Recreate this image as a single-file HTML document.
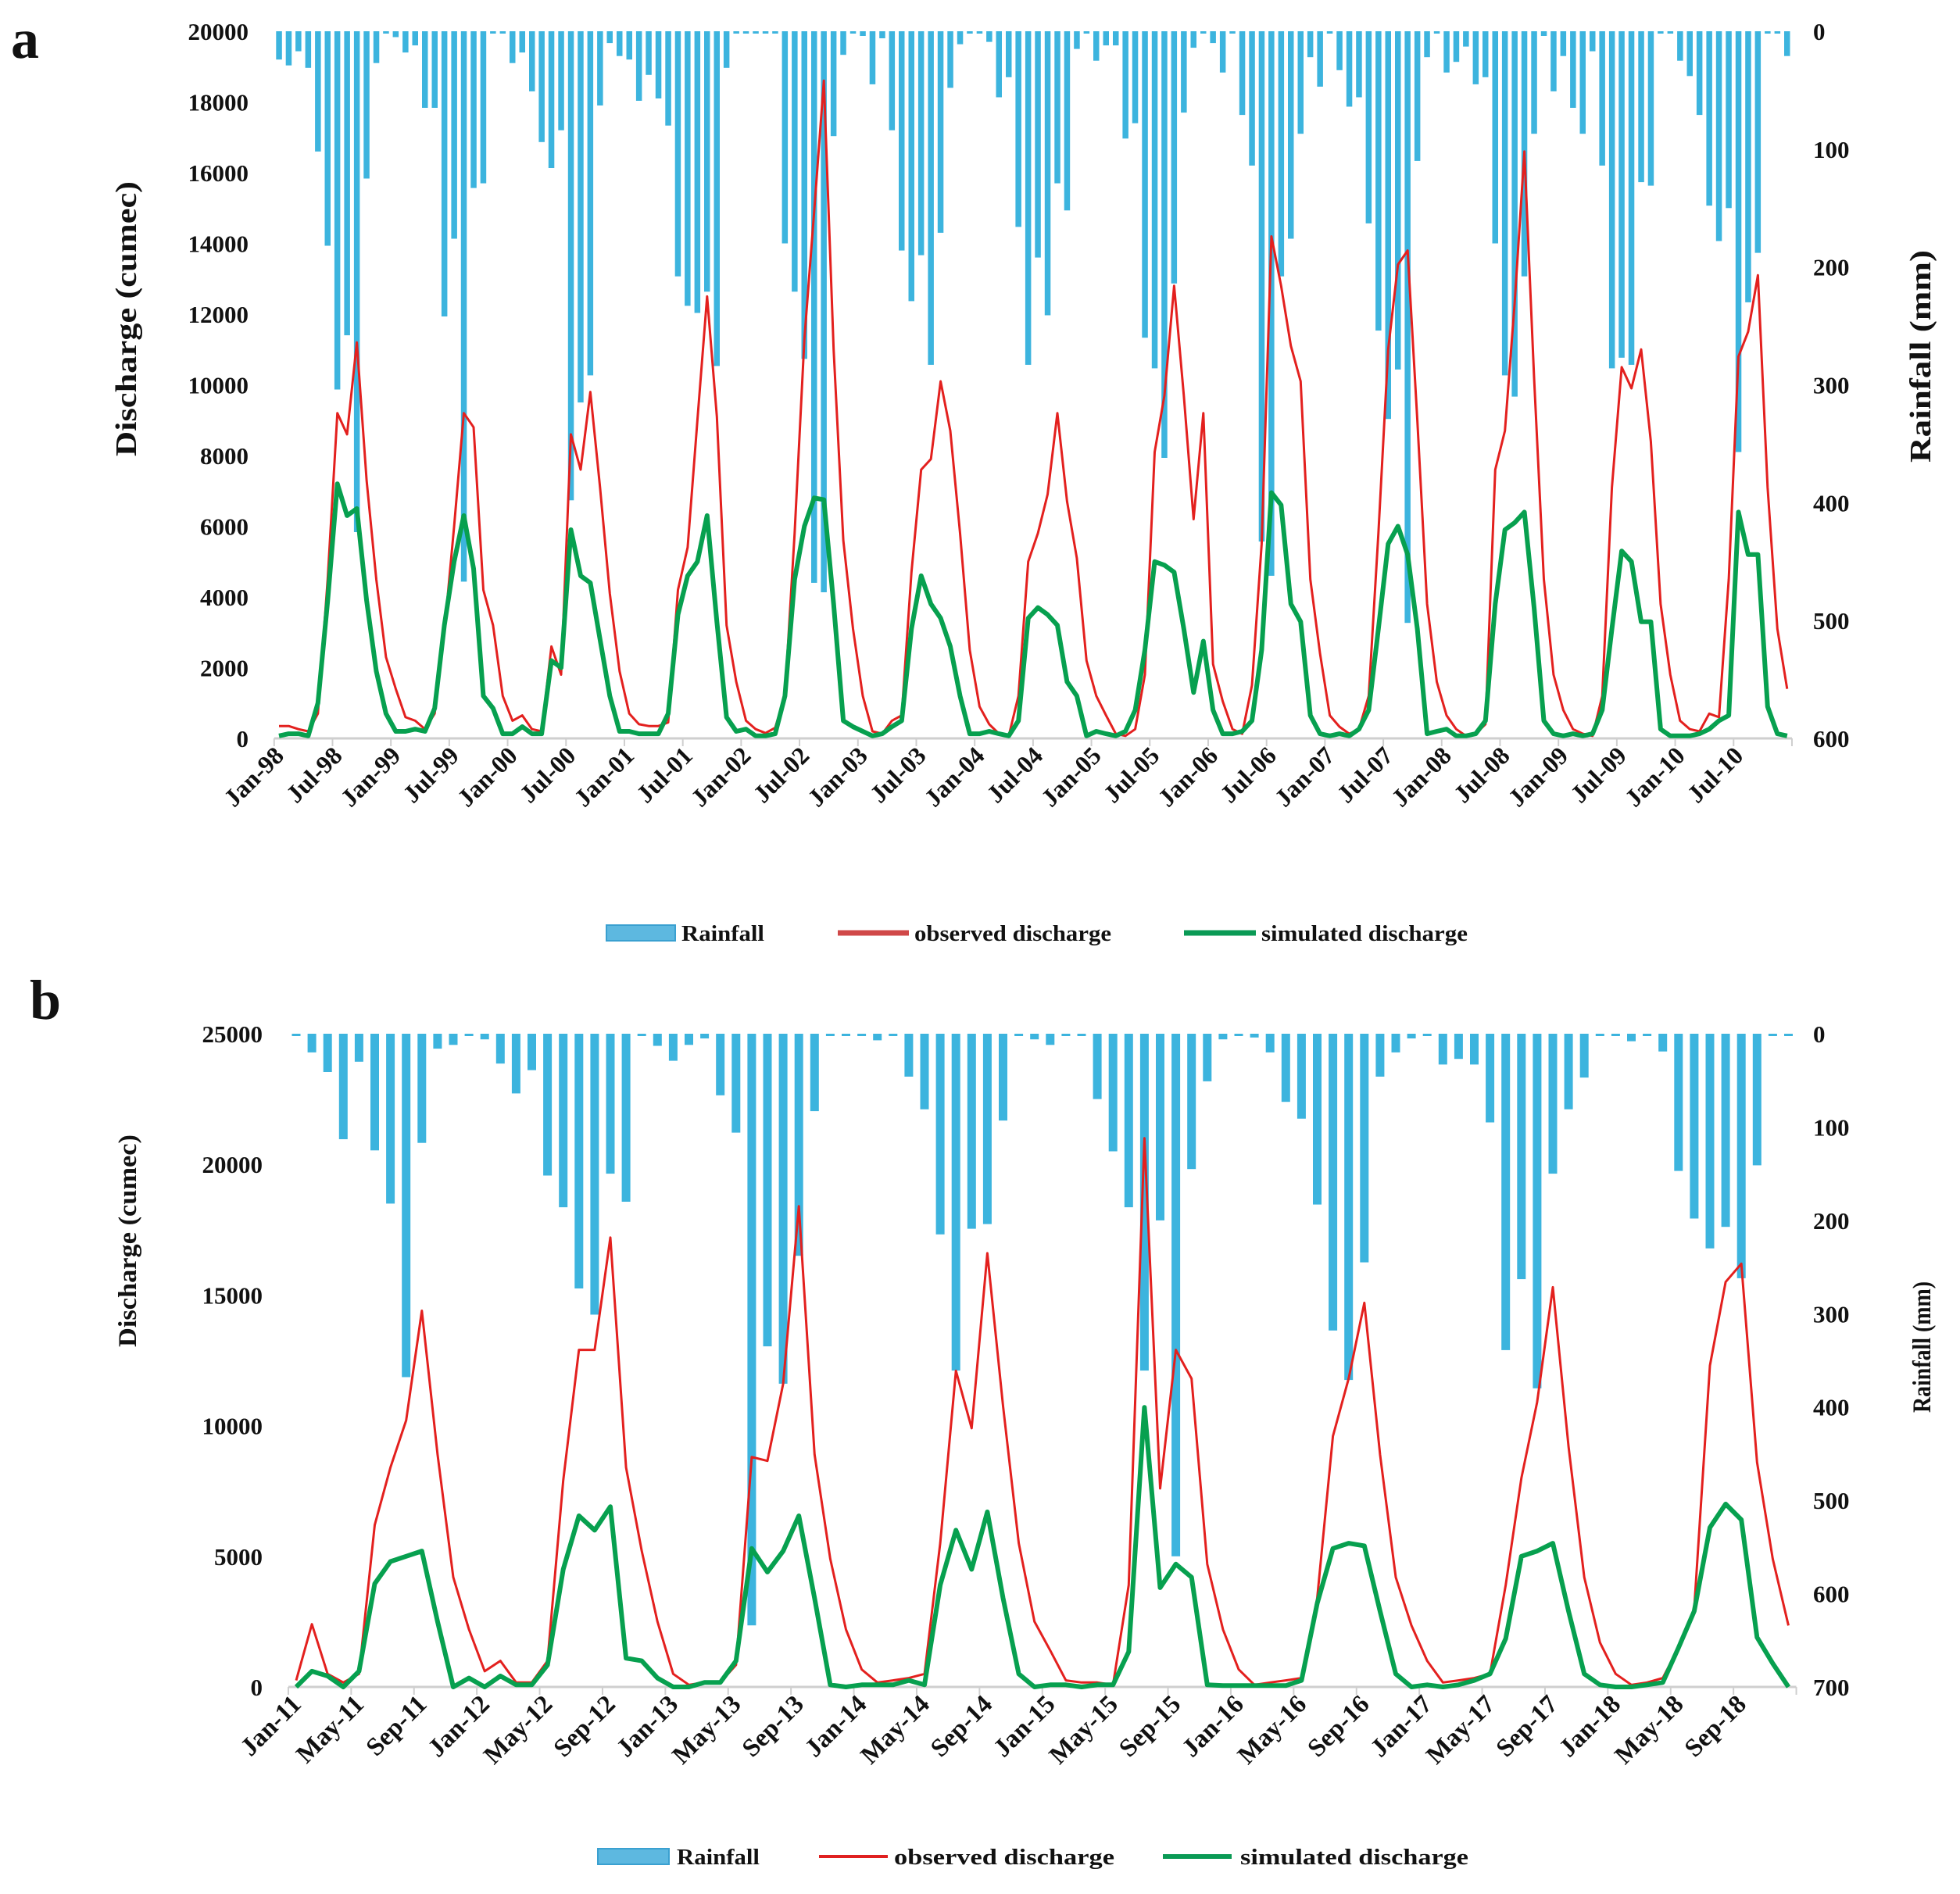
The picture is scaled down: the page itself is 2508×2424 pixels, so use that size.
<!DOCTYPE html>
<html><head><meta charset="utf-8"><style>
html,body{margin:0;padding:0;background:#fff}
svg{display:block}
text{font-family:"Liberation Serif",serif;font-weight:bold;fill:#111}
</style></head><body>
<svg id="fig" width="2508" height="2424" viewBox="0 0 2508 2424" xmlns="http://www.w3.org/2000/svg">
<text x="14" y="74" font-size="72">a</text>
<text x="38" y="1304" font-size="72">b</text>
<g id="chartA"></g>
<g id="chartB"></g>
<g>
<rect x="776" y="1184" width="88" height="20" fill="#5db8e0" stroke="#3aa0d0" stroke-width="2"/>
<text x="872" y="1204" font-size="28" textLength="106" lengthAdjust="spacingAndGlyphs">Rainfall</text>
<line x1="1072" y1="1194" x2="1163" y2="1194" stroke="#d04848" stroke-width="7"/>
<text x="1170" y="1204" font-size="28" textLength="252" lengthAdjust="spacingAndGlyphs">observed discharge</text>
<line x1="1515" y1="1194" x2="1607" y2="1194" stroke="#0a9a55" stroke-width="7"/>
<text x="1614" y="1204" font-size="28" textLength="264" lengthAdjust="spacingAndGlyphs">simulated discharge</text>
</g>
<g>
<rect x="765" y="2366" width="91" height="20" fill="#5db8e0" stroke="#3aa0d0" stroke-width="2"/>
<text x="866" y="2386" font-size="28" textLength="106" lengthAdjust="spacingAndGlyphs">Rainfall</text>
<line x1="1048" y1="2376" x2="1136" y2="2376" stroke="#e02020" stroke-width="4"/>
<text x="1144" y="2386" font-size="28" textLength="282" lengthAdjust="spacingAndGlyphs">observed discharge</text>
<line x1="1488" y1="2376" x2="1576" y2="2376" stroke="#0a9a55" stroke-width="6"/>
<text x="1587" y="2386" font-size="28" textLength="292" lengthAdjust="spacingAndGlyphs">simulated discharge</text>
</g>
</svg>
<script>
// ---- Chart A data (Jan-98 .. Dec-10), discharge in thousand cumec, rainfall mm
const rainA = [24,29,17,31,102,182,304,258,425,125,27,2,
5,18,12,65,65,242,176,467,133,129,1,1,
27,18,51,94,116,84,398,315,292,63,10,21,
24,59,37,57,80,208,233,239,221,284,31,1,
1,1,1,1,180,221,278,468,476,89,20,1,
4,45,6,84,186,229,190,283,171,48,11,1,
1,9,56,39,166,283,192,241,129,152,15,1,
25,12,12,91,78,260,286,362,214,69,14,1,
10,35,1,71,114,433,462,208,176,87,22,47,
1,33,64,56,163,254,329,287,502,110,22,2,
35,26,13,45,39,180,292,310,208,87,4,51,
21,65,87,17,114,286,277,283,128,131,1,1,
25,38,71,148,178,150,357,230,188,1,1,21];
const obsA = [0.35,0.35,0.26,0.2,0.7,4.5,9.2,8.6,11.2,7.3,4.5,2.3,
1.4,0.6,0.5,0.26,0.7,3.0,6.0,9.2,8.8,4.2,3.2,1.2,
0.5,0.65,0.26,0.2,2.6,1.8,8.6,7.6,9.8,7.1,4.1,1.9,
0.7,0.4,0.35,0.35,0.45,4.2,5.4,9.0,12.5,9.1,3.2,1.6,
0.5,0.26,0.15,0.3,1.2,5.8,11.3,14.9,18.6,11.0,5.6,3.1,
1.2,0.2,0.13,0.5,0.65,4.7,7.6,7.9,10.1,8.7,5.8,2.5,
0.9,0.4,0.13,0.07,1.2,5.0,5.8,6.9,9.2,6.7,5.1,2.2,
1.2,0.65,0.13,0.07,0.26,1.8,8.1,9.7,12.8,9.7,6.2,9.2,
2.1,1.05,0.26,0.13,1.5,5.5,14.2,12.8,11.1,10.1,4.5,2.4,
0.65,0.33,0.13,0.26,1.2,5.8,11.0,13.4,13.8,9.0,3.8,1.6,
0.65,0.26,0.07,0.13,0.4,7.6,8.7,12.3,16.6,10.2,4.5,1.8,
0.8,0.26,0.13,0.07,1.2,7.1,10.5,9.9,11.0,8.4,3.8,1.8,
0.5,0.26,0.2,0.7,0.6,4.5,10.8,11.5,13.1,7.1,3.1,1.4];
const simA = [0.07,0.13,0.13,0.07,1.0,3.9,7.2,6.3,6.5,3.9,1.9,0.7,
0.2,0.2,0.26,0.2,0.85,3.2,5.0,6.3,4.8,1.2,0.85,0.13,
0.13,0.33,0.13,0.13,2.2,2.0,5.9,4.6,4.4,2.8,1.2,0.2,
0.2,0.13,0.13,0.13,0.7,3.5,4.6,5.0,6.3,3.3,0.6,0.2,
0.26,0.07,0.07,0.13,1.2,4.5,6.0,6.8,6.75,3.8,0.5,0.33,
0.2,0.07,0.13,0.33,0.5,3.1,4.6,3.8,3.4,2.6,1.2,0.13,
0.13,0.2,0.13,0.07,0.5,3.4,3.7,3.5,3.2,1.6,1.2,0.07,
0.2,0.13,0.07,0.2,0.8,2.5,5.0,4.9,4.7,3.1,1.3,2.75,
0.8,0.13,0.13,0.2,0.5,2.5,6.95,6.6,3.8,3.3,0.65,0.13,
0.07,0.13,0.07,0.26,0.8,3.1,5.5,6.0,5.2,3.1,0.13,0.2,
0.26,0.07,0.07,0.13,0.5,3.8,5.9,6.1,6.4,3.7,0.5,0.13,
0.07,0.13,0.07,0.13,0.8,3.1,5.3,5.0,3.3,3.3,0.26,0.07,
0.07,0.07,0.13,0.26,0.5,0.65,6.4,5.2,5.2,0.9,0.13,0.07];
const yTicksA = [0,2000,4000,6000,8000,10000,12000,14000,16000,18000,20000];
const rTicksA = [0,100,200,300,400,500,600];
// ---- Chart B data (Jan-11 .. Dec-18)
const rainB = [1,20,41,113,30,125,182,368,117,16,12,1,
6,32,64,39,152,186,273,301,150,180,1,13,
29,12,5,66,106,634,335,375,238,83,1,0,
2,7,2,46,81,215,361,209,204,93,1,6,
12,1,1,70,126,186,361,200,560,145,51,6,
1,4,20,73,91,183,318,371,245,46,20,5,
1,33,27,33,95,339,263,380,150,81,47,1,
1,8,2,19,147,198,230,207,262,141,1,1];
const obsB = [0.25,2.4,0.5,0.17,0.5,6.2,8.4,10.2,14.4,8.9,4.2,2.2,
0.6,1.0,0.17,0.17,1.0,7.9,12.9,12.9,17.2,8.4,5.2,2.5,
0.5,0.08,0.17,0.17,0.84,8.8,8.65,11.6,18.4,8.9,4.9,2.2,
0.67,0.17,0.25,0.34,0.5,5.5,12.1,9.9,16.6,10.75,5.5,2.5,
1.4,0.25,0.17,0.17,0.08,3.9,21.0,7.6,12.9,11.8,4.7,2.2,
0.67,0.08,0.17,0.25,0.34,3.4,9.6,11.8,14.7,8.9,4.2,2.35,
1.0,0.17,0.25,0.34,0.5,3.9,8.0,10.9,15.3,9.2,4.2,1.7,
0.5,0.08,0.17,0.34,1.5,3.0,12.3,15.5,16.2,8.6,4.9,2.35];
const simB = [0,0.6,0.42,0,0.6,3.95,4.8,5.0,5.2,2.5,0,0.34,
0,0.42,0.08,0.08,0.84,4.5,6.55,6.0,6.9,1.1,1.0,0.34,
0,0,0.17,0.17,1.0,5.3,4.4,5.2,6.55,3.4,0.08,0,
0.08,0.08,0.08,0.25,0.08,3.9,6.0,4.5,6.7,3.4,0.5,0,
0.08,0.08,0,0.08,0.08,1.35,10.7,3.8,4.7,4.2,0.08,0.05,
0.05,0.05,0.05,0.05,0.25,3.2,5.3,5.5,5.4,2.9,0.5,0,
0.08,0,0.08,0.25,0.5,1.85,5.0,5.2,5.5,2.9,0.5,0.08,
0,0,0.08,0.17,1.5,2.9,6.1,7.0,6.4,1.9,0.9,0];
const yTicksB = [0,5000,10000,15000,20000,25000];
const rTicksB = [0,100,200,300,400,500,600,700];
const monA = ["Jan","Jul"];
const monB = ["Jan","May","Sep"];

const NS="http://www.w3.org/2000/svg";
function mk(parent,tag,attrs){const e=document.createElementNS(NS,tag);for(const k in attrs)e.setAttribute(k,attrs[k]);parent.appendChild(e);return e;}

function drawChart(g,cfg){
  const n=cfg.rain.length;
  const xc=i=>cfg.x0+i*cfg.step;
  const yQ=v=>cfg.yBot-(v*1000/cfg.qMax)*(cfg.yBot-cfg.yTop);
  const yR=v=>cfg.yTop+(v/cfg.rMax)*(cfg.yBot-cfg.yTop);
  for(let i=0;i<n;i++){
    const h=Math.max(yR(cfg.rain[i])-cfg.yTop,3);
    const r=mk(g,'rect',{x:(xc(i)-cfg.bw/2).toFixed(1),y:cfg.yTop,width:cfg.bw,height:h.toFixed(1),fill:'#3cb4de'});
    
    
  }
  const ax=mk(g,'line',{x1:cfg.x0-cfg.step/2,x2:xc(n-1)+cfg.step/2,y1:cfg.yBot,y2:cfg.yBot,stroke:'#cfcfcf','stroke-width':3});
  
  
  for(let i=0;i<=n;i+=cfg.every){
    const tk=mk(g,'line',{x1:xc(i)-cfg.step/2,x2:xc(i)-cfg.step/2,y1:cfg.yBot,y2:cfg.yBot+10,stroke:'#cfcfcf','stroke-width':2});
    
    
  }
  for(let i=0;i<n;i+=cfg.every){
    const yr=(cfg.startYear+Math.floor(i/12))%100;
    const lab=cfg.mons[(i%12)/cfg.every]+'-'+String(yr).padStart(2,'0');
    const x=xc(i)+8,y=cfg.yBot+24;
    const t=mk(g,'text',{x:x,y:y,'font-size':cfg.xFont,'text-anchor':'end',transform:`rotate(-45 ${x} ${y})`});
    t.textContent=lab;
    
    
  }
  cfg.yTicks.forEach(v=>{
    const t=mk(g,'text',{x:cfg.yLabX,y:yQ(v/1000)+11,'font-size':31,'text-anchor':'end'});
    t.textContent=v;
    
    
  });
  cfg.rTicks.forEach(v=>{
    const t=mk(g,'text',{x:2320,y:yR(v)+11,'font-size':31});
    t.textContent=v;
    
    
  });
  const pts=a=>a.map((v,i)=>xc(i).toFixed(1)+','+yQ(v).toFixed(1)).join(' ');
  const ro=mk(g,'polyline',{points:pts(cfg.obs),fill:'none',stroke:'#e3201e','stroke-width':3,'stroke-linejoin':'round'});
  
  
  const gs=mk(g,'polyline',{points:pts(cfg.sim),fill:'none',stroke:'#07a04f','stroke-width':6,'stroke-linejoin':'round'});
  
  
  const t1=mk(g,'text',{x:cfg.titleX,y:cfg.titleLY,'font-size':cfg.titleFont,'text-anchor':'middle',transform:`rotate(-90 ${cfg.titleX} ${cfg.titleLY})`,textLength:cfg.titleLLen,lengthAdjust:'spacingAndGlyphs'});
  t1.textContent='Discharge (cumec)';
  
  
  const t2=mk(g,'text',{x:2470,y:cfg.titleRY,'font-size':cfg.titleFont,'text-anchor':'middle',transform:`rotate(-90 2470 ${cfg.titleRY})`,textLength:cfg.titleRLen,lengthAdjust:'spacingAndGlyphs'});
  t2.textContent='Rainfall (mm)';
  
  
}
drawChart(document.getElementById('chartA'),{rain:rainA,obs:obsA,sim:simA,x0:357,step:12.45,bw:7.5,yTop:40,yBot:945,qMax:20000,rMax:600,
  yTicks:yTicksA,rTicks:rTicksA,every:6,mons:monA,startYear:1998,yLabX:318,xFont:32,titleFont:38,titleX:174,titleLY:408,titleLLen:352,titleRY:456,titleRLen:272});
drawChart(document.getElementById('chartB'),{rain:rainB,obs:obsB,sim:simB,x0:379,step:20.1,bw:11,yTop:1323,yBot:2159,qMax:25000,rMax:700,
  yTicks:yTicksB,rTicks:rTicksB,every:4,mons:monB,startYear:2011,yLabX:336,xFont:33,titleFont:33,titleX:174,titleLY:1588,titleLLen:272,titleRY:1724,titleRLen:168});
</script>
</body></html>
